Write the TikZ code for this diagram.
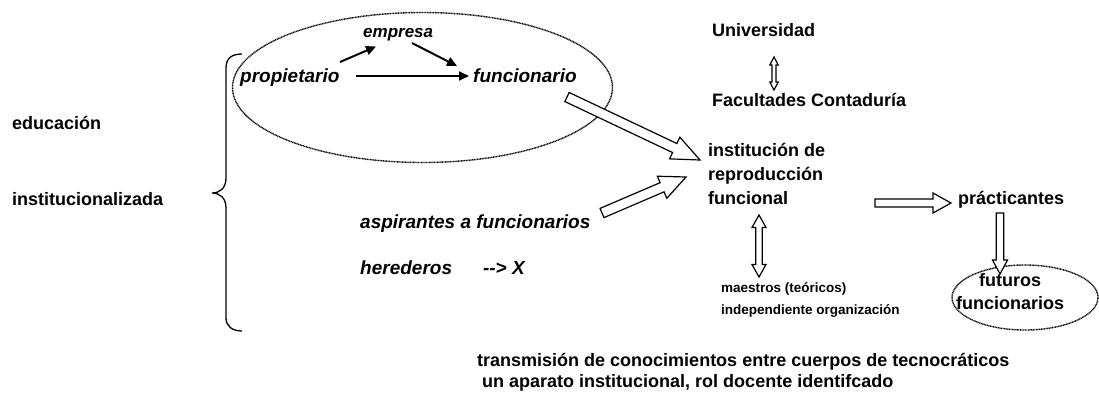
\documentclass[tikz,border=0pt]{standalone}
\usepackage{fontspec}
\setmainfont{Liberation Sans}
\usetikzlibrary{calc,shapes.geometric,arrows.meta}

% single-headed hollow arrow: tail, tip, shaft half width, head half width, head length
\newcommand{\harrow}[5]{%
  \coordinate (hA) at (#1); \coordinate (hB) at (#2);
  \coordinate (hH) at ($(hB)!#5!(hA)$);
  \draw[hollow] ($(hA)!#3!90:(hB)$) -- ($(hH)!#3!90:(hB)$) -- ($(hH)!#4!90:(hB)$) -- (hB)
     -- ($(hH)!#4!-90:(hB)$) -- ($(hH)!#3!-90:(hB)$) -- ($(hA)!#3!-90:(hB)$) -- cycle;}
% double-headed hollow arrow
\newcommand{\dharrow}[5]{%
  \coordinate (hA) at (#1); \coordinate (hB) at (#2);
  \coordinate (hH) at ($(hB)!#5!(hA)$);
  \coordinate (hG) at ($(hA)!#5!(hB)$);
  \draw[hollow] (hA) -- ($(hG)!#4!90:(hB)$) -- ($(hG)!#3!90:(hB)$) -- ($(hH)!#3!90:(hB)$) -- ($(hH)!#4!90:(hB)$) -- (hB)
     -- ($(hH)!#4!-90:(hB)$) -- ($(hH)!#3!-90:(hB)$) -- ($(hG)!#3!-90:(hB)$) -- ($(hG)!#4!-90:(hB)$) -- cycle;}

\begin{document}
\begin{tikzpicture}[x=1pt,y=-1pt,
  lbl/.style={font=\fontsize{18}{23.6}\selectfont\bfseries, inner sep=0pt, anchor=base west, align=left},
  ilbl/.style={font=\fontsize{19}{22}\selectfont\bfseries\itshape, inner sep=0pt, anchor=base west},
  sml/.style={font=\fontsize{13.5}{21.6}\selectfont\bfseries, inner sep=0pt, anchor=base west, align=left},
  dotring/.style={draw, ellipse, line width=1.4pt, dash pattern=on 1pt off 0.6pt, inner sep=0pt},
  arr/.style={line width=2pt, -{Triangle[length=10pt,width=9pt]}},
  hollow/.style={draw, line width=1.2pt, fill=white, line join=miter},
  brace/.style={line width=1.3pt}]
\useasboundingbox (0,0) rectangle (1099,392);

% left labels and brace
\node[lbl] (edu) at (12,129.3) {educación};
\node[lbl] (inst) at (12,205) {institucionalizada};
\draw[brace] (242,54) .. controls (232,54) and (226,58) .. (226,68) -- (226,178)
  .. controls (226,188) and (220,193) .. (212,193)
  .. controls (220,193) and (226,198) .. (226,208) -- (226,318)
  .. controls (226,326) and (232,331) .. (242,331);

% group ellipse
\node[dotring, minimum width=380pt, minimum height=150pt] (grp) at (422.5,87.5) {};
\node[ilbl, font=\fontsize{17}{20}\selectfont\bfseries\itshape] (emp) at (363,37.3) {empresa};
\node[ilbl] (prop) at (240,82.7) {propietario};
\node[ilbl] (func) at (473,82.7) {funcionario};
\coordinate (p1) at (340,62); \coordinate (e1) at (376,46.5);
\coordinate (e2) at (412,43); \coordinate (f2) at (457,66);
\coordinate (p3) at (356,76); \coordinate (f3) at (469,76);
\draw[arr] (p1) -- (e1);
\draw[arr] (e2) -- (f2);
\draw[arr] (p3) -- (f3);

% others
\node[ilbl] (asp) at (360,228.3) {aspirantes a funcionarios};
\node[ilbl] (her) at (360,274) {herederos\hspace{31pt}-{}-{}>~X};

% right column
\node[lbl] (uni) at (712,36.7) {Universidad};
\node[lbl] (fac) at (712,106) {Facultades Contaduría};
\node[lbl] (irf) at (708,204) {institución de\\reproducción\\funcional};
\node[lbl] (pra) at (958,204) {prácticantes};
\node[sml] (mae) at (721,314.3) {maestros (teóricos)\\independiente organización};
\node[dotring, minimum width=146pt, minimum height=65pt] (futr) at (1025,297.5) {};
\node[lbl, anchor=base, align=center, font=\fontsize{18}{22.6}\selectfont\bfseries] (fut) at (1010,309.3) {futuros\\funcionarios};
\node[lbl, font=\fontsize{18}{20.6}\selectfont\bfseries] (trans) at (477,387.3) {transmisión de conocimientos entre cuerpos de tecnocráticos\\\hspace*{5pt}un aparato institucional, rol docente identifcado};

% hollow arrows
\coordinate (a1s) at (567,97);  \coordinate (a1e) at (700,160);
\coordinate (a2s) at (602,213); \coordinate (a2e) at (686,177);
\coordinate (a3s) at (875,203); \coordinate (a3e) at (951,203);
\coordinate (a4s) at (1000,213); \coordinate (a4e) at (1000,274);
\coordinate (d1s) at (774,57);  \coordinate (d1e) at (774,90);
\coordinate (d2s) at (759,215); \coordinate (d2e) at (759,277);
\harrow{a1s}{a1e}{5pt}{12pt}{28pt}
\harrow{a2s}{a2e}{5pt}{12pt}{26pt}
\harrow{a3s}{a3e}{4pt}{10pt}{18pt}
\harrow{a4s}{a4e}{3.8pt}{7.5pt}{14pt}
\dharrow{d1s}{d1e}{2pt}{4.2pt}{8pt}
\dharrow{d2s}{d2e}{3.3pt}{7pt}{12.5pt}
\end{tikzpicture}
\end{document}
